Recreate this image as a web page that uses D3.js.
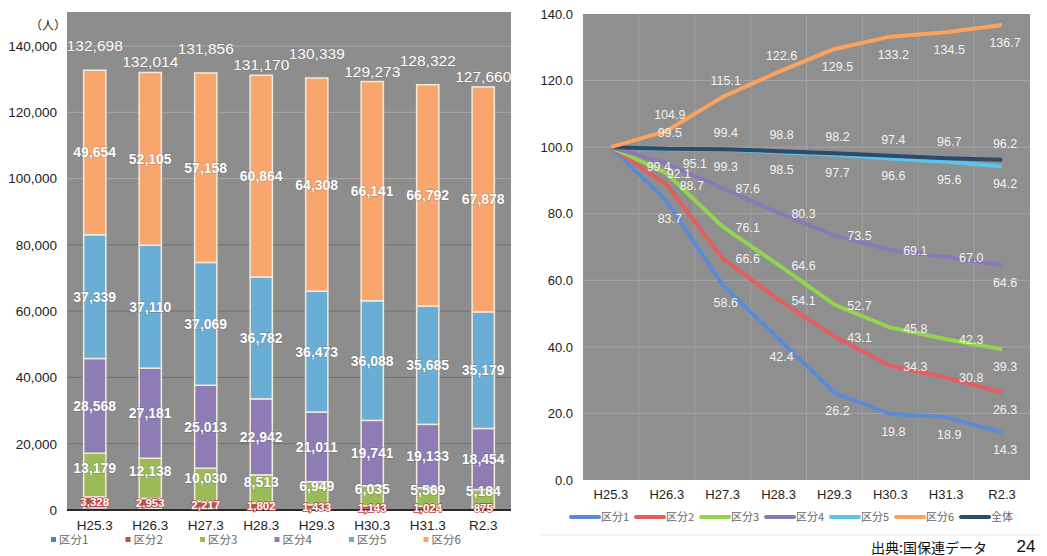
<!DOCTYPE html>
<html><head><meta charset="utf-8">
<script src="https://cdn.jsdelivr.net/npm/d3@7"></script>
<style>
body{margin:0;background:#fff;}
svg{display:block;}
</style></head>
<body>
<svg id="c" width="1047" height="556"></svg>
<script>
const categories = ["H25.3","H26.3","H27.3","H28.3","H29.3","H30.3","H31.3","R2.3"];
const seriesNames = ["区分1","区分2","区分3","区分4","区分5","区分6"];
const k1 = [630, 527, 369, 267, 165, 125, 119, 90];
const k2 = [3328, 2953, 2217, 1802, 1433, 1143, 1024, 875];
const k3 = [13179, 12138, 10030, 8513, 6949, 6035, 5569, 5184];
const k4 = [28568, 27181, 25013, 22942, 21011, 19741, 19133, 18454];
const k5 = [37339, 37110, 37069, 36782, 36473, 36088, 35685, 35179];
const k6 = [49654, 52105, 57158, 60864, 64308, 66141, 66792, 67878];
const totals = [132698, 132014, 131856, 131170, 130339, 129273, 128322, 127660];
const leftTicks = [0, 20000, 40000, 60000, 80000, 100000, 120000, 140000];

const lineNames = ["区分1","区分2","区分3","区分4","区分5","区分6","全体"];
const r1 = [100, 83.7, 58.6, 42.4, 26.2, 19.8, 18.9, 14.3];
const r2 = [100, 88.7, 66.6, 54.1, 43.1, 34.3, 30.8, 26.3];
const r3 = [100, 92.1, 76.1, 64.6, 52.7, 45.8, 42.3, 39.3];
const r4 = [100, 95.1, 87.6, 80.3, 73.5, 69.1, 67.0, 64.6];
const r5 = [100, 99.4, 99.3, 98.5, 97.7, 96.6, 95.6, 94.2];
const r6 = [100, 104.9, 115.1, 122.6, 129.5, 133.2, 134.5, 136.7];
const rAll = [100, 99.5, 99.4, 98.8, 98.2, 97.4, 96.7, 96.2];
const rightTicks = [0, 20, 40, 60, 80, 100, 120, 140];

const barColors = ["#4f81bd","#c0504d","#9bbb59","#8e7cb5","#6aaed6","#f9a56e"];
const lineColors = ["#5b8bd6","#e35e5e","#93d34e","#8b78b8","#5cc3ec","#f9a35e","#2c4a6a"];

const svg = d3.select("#c");
const numFont = "'Liberation Sans', Arial, sans-serif";
const jpFont = "'Noto Sans CJK JP', sans-serif";

// ---------------- Left chart ----------------
const L = {x0:67, x1:511, yTop:12, y0:510, y140:46};
const xL = d3.scaleBand().domain(categories).range([L.x0, L.x1]).paddingInner(0.6).paddingOuter(0.3);
const yL = d3.scaleLinear().domain([0, 140000]).range([L.y0, L.y140]);

svg.append("rect").attr("x", L.x0).attr("y", L.yTop).attr("width", L.x1 - L.x0).attr("height", L.y0 - L.yTop).attr("fill", "#8d8d8d");
svg.append("g").selectAll("line").data(leftTicks.filter(d => d > 0)).join("line")
  .attr("x1", L.x0).attr("x2", L.x1).attr("y1", d => yL(d)).attr("y2", d => yL(d))
  .attr("stroke", d => d >= 100000 ? "#a9a9a9" : "#707070").attr("stroke-width", 1);

const yAxL = d3.axisLeft(yL).tickValues(leftTicks).tickFormat(d3.format(",")).tickSize(0).tickPadding(0);
const gyL = svg.append("g").attr("transform", `translate(57,0)`).call(yAxL);
gyL.select(".domain").remove();
gyL.selectAll("text").attr("font-family", numFont).attr("font-size", 13.5).attr("fill", "#222");

svg.append("text").attr("x", 48).attr("y", 30).attr("text-anchor", "middle")
  .attr("font-family", jpFont).attr("font-size", 12).attr("fill", "#222").text("（人）");

const rows = categories.map((c, i) => ({cat: c, "区分1": k1[i], "区分2": k2[i], "区分3": k3[i], "区分4": k4[i], "区分5": k5[i], "区分6": k6[i]}));
const stack = d3.stack().keys(seriesNames)(rows);

const gBars = svg.append("g");
stack.forEach((s, si) => {
  gBars.append("g").selectAll("rect").data(s).join("rect")
    .attr("x", d => xL(d.data.cat)).attr("width", xL.bandwidth())
    .attr("y", d => yL(d[1])).attr("height", d => yL(d[0]) - yL(d[1]))
    .attr("fill", barColors[si]).attr("stroke", "#f3ead9").attr("stroke-width", si === 0 ? 0 : 1.5);
});
// baseline
svg.append("line").attr("x1", L.x0).attr("x2", L.x1).attr("y1", L.y0).attr("y2", L.y0).attr("stroke", "#2a2a2a").attr("stroke-width", 2);

// segment labels
const segDy = [0, 4, -2, 5, 5, 5];
stack.forEach((s, si) => {
  if (si === 0) return;
  svg.append("g").selectAll("text").data(s).join("text")
    .attr("x", d => xL(d.data.cat) + xL.bandwidth() / 2)
    .attr("y", d => (yL(d[0]) + yL(d[1])) / 2 + segDy[si])
    .attr("text-anchor", "middle").attr("font-family", numFont)
    .attr("font-size", si === 1 ? 11.5 : 14).attr("font-weight", "bold")
    .attr("fill", "#ffffff")
    .attr("stroke", si === 1 ? "#b2403f" : "rgba(80,80,80,0.45)").attr("stroke-width", si === 1 ? 1.4 : 1)
    .attr("paint-order", "stroke")
    .text(d => d3.format(",")(d.data[seriesNames[si]]));
});
// totals
svg.append("g").selectAll("text").data(totals).join("text")
  .attr("x", (d, i) => xL(categories[i]) + xL.bandwidth() / 2)
  .attr("y", (d, i) => yL(d) - (i % 2 === 0 ? 19 : 5))
  .attr("text-anchor", "middle").attr("font-family", numFont).attr("font-size", 15.5)
  .attr("fill", "#ffffff").attr("stroke", "rgba(80,80,80,0.35)").attr("stroke-width", 0.8).attr("paint-order", "stroke")
  .text(d => d3.format(",")(d));

// x axis
const xAxL = d3.axisBottom(xL).tickSize(0).tickPadding(0);
const gxL = svg.append("g").attr("transform", `translate(0,520)`).call(xAxL);
gxL.select(".domain").remove();
gxL.selectAll("text").attr("font-family", numFont).attr("font-size", 13.5).attr("fill", "#222");

// legend left
const legL = svg.append("g").selectAll("g").data(seriesNames).join("g")
  .attr("transform", (d, i) => `translate(${51 + i * 74.5},540)`);
legL.append("rect").attr("x", 0).attr("y", -3).attr("width", 5).attr("height", 5).attr("fill", (d, i) => barColors[i]);
legL.append("text").attr("x", 8).attr("y", 4).attr("font-family", jpFont).attr("font-size", 11.5).attr("fill", "#666").text(d => d);

// ---------------- Right chart ----------------
const R = {x0:583, x1:1030, yTop:14, y0:480};
const xR = d3.scaleBand().domain(categories).range([R.x0, R.x1]).padding(0);
const px = c => xR(c) + xR.bandwidth() / 2;
const yR = d3.scaleLinear().domain([0, 140]).range([R.y0, R.yTop]);

svg.append("rect").attr("x", R.x0).attr("y", R.yTop).attr("width", R.x1 - R.x0).attr("height", R.y0 - R.yTop).attr("fill", "#8f8f8f");
svg.append("g").selectAll("line").data(rightTicks.filter(d => d > 0 && d < 140)).join("line")
  .attr("x1", R.x0).attr("x2", R.x1).attr("y1", d => yR(d)).attr("y2", d => yR(d))
  .attr("stroke", "#a6a6a6").attr("stroke-width", 1);
svg.append("g").selectAll("line").data(categories.slice(1)).join("line")
  .attr("x1", d => xR(d)).attr("x2", d => xR(d)).attr("y1", R.yTop).attr("y2", R.y0)
  .attr("stroke", "#a0a0a0").attr("stroke-width", 1);

const yAxR = d3.axisLeft(yR).tickValues(rightTicks).tickFormat(d3.format(".1f")).tickSize(0).tickPadding(0);
const gyR = svg.append("g").attr("transform", `translate(573,0)`).call(yAxR);
gyR.select(".domain").remove();
gyR.selectAll("text").attr("font-family", numFont).attr("font-size", 13).attr("fill", "#222");

const xAxR = d3.axisBottom(xR).tickSize(0).tickPadding(0);
const gxR = svg.append("g").attr("transform", `translate(0,490)`).call(xAxR);
gxR.select(".domain").remove();
gxR.selectAll("text").attr("font-family", numFont).attr("font-size", 13).attr("fill", "#222");

const lineSeries = [r1, r2, r3, r4, r5, r6, rAll];
const line = d3.line().x((d, i) => px(categories[i])).y(d => yR(d));
[0,1,2,3,4,6,5].forEach(si => {
  svg.append("path").datum(lineSeries[si]).attr("d", line).attr("fill", "none")
    .attr("stroke", lineColors[si]).attr("stroke-width", 4).attr("stroke-linejoin", "round");
});

// label placement per series
function labelPos(si, i) {
  if (si === 0 || si === 4) return "below";
  if (si === 1 || si === 2 || si === 3) return i === categories.length - 1 ? "below" : "right";
  if (si === 5) return i <= 3 ? "above" : "below";
  return "above";
}
function labelDx(si, i) {
  const p = labelPos(si, i);
  if (p === "right") return (si === 2 && i === 1) ? 12 : (si === 3 && i === 1) ? 28 : 25;
  if (si === 4 && i === 1) return -8;
  return 3;
}
lineSeries.forEach((vals, si) => {
  svg.append("g").selectAll("text").data(vals.map((v, i) => ({v, i})).filter(d => d.i > 0)).join("text")
    .attr("x", d => px(categories[d.i]) + labelDx(si, d.i))
    .attr("y", d => {
      const p = labelPos(si, d.i);
      const y = yR(d.v);
      return p === "below" ? y + 22 : p === "above" ? y - 12 : y + 5;
    })
    .attr("text-anchor", "middle").attr("font-family", numFont).attr("font-size", 12.5)
    .attr("fill", "#f2f2f2")
    .text(d => d3.format(".1f")(d.v));
});

// legend right
const legR = svg.append("g").selectAll("g").data(lineNames).join("g")
  .attr("transform", (d, i) => `translate(${571 + i * 65},517)`);
legR.append("line").attr("x1", 0).attr("x2", 28).attr("y1", 0).attr("y2", 0)
  .attr("stroke", (d, i) => lineColors[i]).attr("stroke-width", 4).attr("stroke-linecap", "round");
legR.append("text").attr("x", 30).attr("y", 4).attr("font-family", jpFont).attr("font-size", 11).attr("fill", "#666").text(d => d);

// rules and source
svg.append("line").attr("x1", 540).attr("x2", 1040).attr("y1", 535).attr("y2", 535).attr("stroke", "#ececec");
svg.append("text").attr("x", 987).attr("y", 553).attr("text-anchor", "end")
  .attr("font-family", jpFont).attr("font-size", 14).attr("fill", "#111").text("出典:国保連データ");
svg.append("text").attr("x", 1026).attr("y", 552).attr("text-anchor", "middle")
  .attr("font-family", numFont).attr("font-size", 17).attr("fill", "#111").text("24");
</script>
</body></html>
